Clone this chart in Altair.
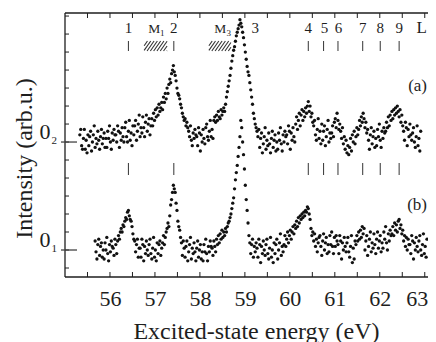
import altair as alt
import pandas as pd

# ---------------- data ----------------
# spectrum (a): excitation energy (eV) and intensity (arb. units, own zero)
energy_a = [
    55.33, 55.35, 55.37, 55.39, 55.41, 55.43, 55.45, 55.47, 55.49, 55.51,
    55.53, 55.55, 55.57, 55.59, 55.61, 55.63, 55.65, 55.67, 55.69, 55.71,
    55.73, 55.75, 55.77, 55.79, 55.81, 55.83, 55.85, 55.87, 55.89, 55.91,
    55.93, 55.95, 55.97, 55.99, 56.01, 56.03, 56.05, 56.07, 56.09, 56.11,
    56.13, 56.15, 56.17, 56.19, 56.21, 56.23, 56.25, 56.27, 56.29, 56.31,
    56.33, 56.35, 56.37, 56.39, 56.41, 56.43, 56.45, 56.47, 56.49, 56.51,
    56.53, 56.55, 56.57, 56.59, 56.61, 56.63, 56.65, 56.67, 56.69, 56.71,
    56.73, 56.75, 56.77, 56.79, 56.81, 56.83, 56.85, 56.87, 56.89, 56.91,
    56.93, 56.95, 56.97, 56.99, 57.01, 57.03, 57.05, 57.07, 57.09, 57.11,
    57.13, 57.15, 57.17, 57.19, 57.21, 57.23, 57.25, 57.27, 57.29, 57.31,
    57.33, 57.35, 57.37, 57.39, 57.41, 57.43, 57.45, 57.47, 57.49, 57.51,
    57.53, 57.55, 57.57, 57.59, 57.61, 57.63, 57.65, 57.67, 57.69, 57.71,
    57.73, 57.75, 57.77, 57.79, 57.81, 57.83, 57.85, 57.87, 57.89, 57.91,
    57.93, 57.95, 57.97, 57.99, 58.01, 58.03, 58.05, 58.07, 58.09, 58.11,
    58.13, 58.15, 58.17, 58.19, 58.21, 58.23, 58.25, 58.27, 58.29, 58.31,
    58.33, 58.35, 58.37, 58.39, 58.41, 58.43, 58.45, 58.47, 58.49, 58.51,
    58.53, 58.55, 58.57, 58.59, 58.61, 58.63, 58.65, 58.67, 58.69, 58.71,
    58.73, 58.75, 58.77, 58.79, 58.81, 58.83, 58.85, 58.87, 58.89, 58.91,
    58.93, 58.95, 58.97, 58.99, 59.01, 59.03, 59.05, 59.07, 59.09, 59.11,
    59.13, 59.15, 59.17, 59.19, 59.21, 59.23, 59.25, 59.27, 59.29, 59.31,
    59.33, 59.35, 59.37, 59.39, 59.41, 59.43, 59.45, 59.47, 59.49, 59.51,
    59.53, 59.55, 59.57, 59.59, 59.61, 59.63, 59.65, 59.67, 59.69, 59.71,
    59.73, 59.75, 59.77, 59.79, 59.81, 59.83, 59.85, 59.87, 59.89, 59.91,
    59.93, 59.95, 59.97, 59.99, 60.01, 60.03, 60.05, 60.07, 60.09, 60.11,
    60.13, 60.15, 60.17, 60.19, 60.21, 60.23, 60.25, 60.27, 60.29, 60.31,
    60.33, 60.35, 60.37, 60.39, 60.41, 60.43, 60.45, 60.47, 60.49, 60.51,
    60.53, 60.55, 60.57, 60.59, 60.61, 60.63, 60.65, 60.67, 60.69, 60.71,
    60.73, 60.75, 60.77, 60.79, 60.81, 60.83, 60.85, 60.87, 60.89, 60.91,
    60.93, 60.95, 60.97, 60.99, 61.01, 61.03, 61.05, 61.07, 61.09, 61.11,
    61.13, 61.15, 61.17, 61.19, 61.21, 61.23, 61.25, 61.27, 61.29, 61.31,
    61.33, 61.35, 61.37, 61.39, 61.41, 61.43, 61.45, 61.47, 61.49, 61.51,
    61.53, 61.55, 61.57, 61.59, 61.61, 61.63, 61.65, 61.67, 61.69, 61.71,
    61.73, 61.75, 61.77, 61.79, 61.81, 61.83, 61.85, 61.87, 61.89, 61.91,
    61.93, 61.95, 61.97, 61.99, 62.01, 62.03, 62.05, 62.07, 62.09, 62.11,
    62.13, 62.15, 62.17, 62.19, 62.21, 62.23, 62.25, 62.27, 62.29, 62.31,
    62.33, 62.35, 62.37, 62.39, 62.41, 62.43, 62.45, 62.47, 62.49, 62.51,
    62.53, 62.55, 62.57, 62.59, 62.61, 62.63, 62.65, 62.67, 62.69, 62.71,
    62.73, 62.75, 62.77, 62.79, 62.81, 62.83, 62.85, 62.87, 62.89, 62.91,
]
intensity_a = [
    0.4, 0.7, -0.2, -0.4, 0.2, 0.7, -0.4, 0.1, -0.6, 0.4,
    -0.2, 0.3, 0.6, -0.5, 0.0, 0.4, 0.9, -0.3, 0.2, -0.1,
    0.6, 0.1, -0.4, 0.3, 0.7, -0.1, 0.2, 0.5, -0.3, 0.2,
    -0.3, 0.6, 0.2, 0.9, 0.0, -0.4, 0.5, 0.1, 0.7, 0.4,
    0.4, 0.0, 0.9, 0.6, -0.3, 0.5, 0.1, 0.8, 0.3, 0.0,
    0.8, 1.1, 0.3, 0.0, 0.6, 1.2, 0.1, 0.5, -0.2, 0.9,
    0.4, 0.9, 1.2, 0.1, 0.6, 1.0, 1.5, 0.3, 0.8, 0.5,
    1.4, 0.8, 0.3, 1.1, 1.5, 0.6, 1.0, 1.3, 0.4, 0.9,
    1.3, 0.9, 1.6, 1.2, 1.8, 1.4, 1.9, 1.5, 2.1, 1.7,
    1.9, 2.2, 1.8, 2.5, 2.2, 2.7, 2.4, 3.0, 2.7, 3.2,
    3.5, 3.3, 3.8, 4.0, 4.25, 3.9, 3.7, 3.4, 3.0, 2.7,
    2.6, 2.4, 2.1, 1.9, 1.6, 1.4, 1.2, 1.3, 0.9, 1.1,
    0.8, 0.6, 0.3, 0.9, 0.1, -0.2, 0.5, 0.2, 0.7, 0.4,
    0.3, -0.2, 0.8, 0.5, -0.5, 0.4, 0.0, 0.7, 0.2, -0.1,
    0.8, 1.0, 0.3, 0.1, 0.6, 1.2, 0.3, 0.7, 0.2, 1.2,
    1.4, 1.1, 1.5, 1.2, 1.7, 1.4, 1.3, 1.8, 1.5, 1.7,
    1.9, 1.7, 2.1, 2.5, 2.8, 3.1, 3.4, 3.7, 4.1, 4.5,
    4.8, 5.1, 5.3, 5.6, 5.9, 6.1, 6.3, 6.5, 6.8, 6.6,
    6.4, 6.1, 5.8, 5.4, 5.0, 4.6, 4.2, 3.9, 3.7, 3.3,
    2.9, 2.5, 2.1, 1.6, 1.3, 1.0, 0.8, 0.6, 0.3, 0.7,
    -0.3, 0.2, 0.5, -0.6, -0.1, 0.3, 0.8, -0.4, 0.1, -0.2,
    0.5, -0.1, -0.6, 0.2, 0.6, -0.3, 0.1, 0.4, -0.5, 0.0,
    -0.4, 0.5, 0.1, 0.8, -0.1, -0.5, 0.4, 0.0, 0.6, 0.3,
    0.4, -0.1, 0.9, 0.6, -0.4, 0.5, 0.1, 0.8, 0.3, 0.0,
    1.0, 1.4, 0.7, 1.2, 1.6, 0.9, 1.5, 1.8, 1.2, 1.7,
    1.4, 1.9, 1.6, 2.0, 2.25, 1.7, 2.0, 1.4, 1.6, 1.1,
    0.9, 1.2, 0.4, 0.1, 0.7, 1.3, 0.2, 0.6, -0.1, 1.0,
    0.1, 0.6, 0.9, -0.2, 0.3, 0.7, 1.2, 0.0, 0.5, 0.2,
    0.5, 0.9, 0.3, 1.1, 1.3, 0.8, 1.6, 1.2, 0.7, 1.0,
    0.6, 0.2, 0.8, -0.1, 0.3, -0.4, 0.1, -0.6, -0.2, -0.7,
    -0.3, 0.2, -0.5, 0.4, 0.0, 0.6, -0.1, 0.3, 0.8, 0.4,
    0.7, 1.2, 0.9, 1.4, 1.1, 1.6, 1.3, 0.8, 1.1, 0.5,
    0.7, 0.1, -0.4, 0.4, 0.8, -0.1, 0.3, 0.6, -0.3, 0.2,
    -0.2, 0.7, 0.3, 1.0, 0.1, -0.3, 0.6, 0.2, 0.8, 0.5,
    0.6, 1.1, 0.8, 1.4, 0.9, 1.5, 1.2, 1.7, 1.3, 1.8,
    1.5, 1.9, 1.6, 2.0, 1.7, 1.4, 1.8, 1.1, 1.5, 0.9,
    0.6, 0.1, 1.1, 0.8, -0.2, 0.7, 0.3, 1.0, 0.4, 0.1,
    0.5, 0.8, 0.0, -0.3, 0.3, 0.9, -0.2, 0.2, -0.5, 0.6,
]

# spectrum (b)
energy_b = [
    55.67, 55.69, 55.71, 55.73, 55.75, 55.77, 55.79, 55.81, 55.83, 55.85,
    55.87, 55.89, 55.91, 55.93, 55.95, 55.97, 55.99, 56.01, 56.03, 56.05,
    56.07, 56.09, 56.11, 56.13, 56.15, 56.17, 56.19, 56.21, 56.23, 56.25,
    56.27, 56.29, 56.31, 56.33, 56.35, 56.37, 56.39, 56.41, 56.43, 56.45,
    56.47, 56.49, 56.51, 56.53, 56.55, 56.57, 56.59, 56.61, 56.63, 56.65,
    56.67, 56.69, 56.71, 56.73, 56.75, 56.77, 56.79, 56.81, 56.83, 56.85,
    56.87, 56.89, 56.91, 56.93, 56.95, 56.97, 56.99, 57.01, 57.03, 57.05,
    57.07, 57.09, 57.11, 57.13, 57.15, 57.17, 57.19, 57.21, 57.23, 57.25,
    57.27, 57.29, 57.31, 57.33, 57.35, 57.37, 57.39, 57.41, 57.43, 57.45,
    57.47, 57.49, 57.51, 57.53, 57.55, 57.57, 57.59, 57.61, 57.63, 57.65,
    57.67, 57.69, 57.71, 57.73, 57.75, 57.77, 57.79, 57.81, 57.83, 57.85,
    57.87, 57.89, 57.91, 57.93, 57.95, 57.97, 57.99, 58.01, 58.03, 58.05,
    58.07, 58.09, 58.11, 58.13, 58.15, 58.17, 58.19, 58.21, 58.23, 58.25,
    58.27, 58.29, 58.31, 58.33, 58.35, 58.37, 58.39, 58.41, 58.43, 58.45,
    58.47, 58.49, 58.51, 58.53, 58.55, 58.57, 58.59, 58.61, 58.63, 58.65,
    58.67, 58.69, 58.71, 58.73, 58.75, 58.77, 58.79, 58.81, 58.83, 58.85,
    58.87, 58.89, 58.91, 58.93, 58.95, 58.97, 58.99, 59.01, 59.03, 59.05,
    59.07, 59.09, 59.11, 59.13, 59.15, 59.17, 59.19, 59.21, 59.23, 59.25,
    59.27, 59.29, 59.31, 59.33, 59.35, 59.37, 59.39, 59.41, 59.43, 59.45,
    59.47, 59.49, 59.51, 59.53, 59.55, 59.57, 59.59, 59.61, 59.63, 59.65,
    59.67, 59.69, 59.71, 59.73, 59.75, 59.77, 59.79, 59.81, 59.83, 59.85,
    59.87, 59.89, 59.91, 59.93, 59.95, 59.97, 59.99, 60.01, 60.03, 60.05,
    60.07, 60.09, 60.11, 60.13, 60.15, 60.17, 60.19, 60.21, 60.23, 60.25,
    60.27, 60.29, 60.31, 60.33, 60.35, 60.37, 60.39, 60.41, 60.43, 60.45,
    60.47, 60.49, 60.51, 60.53, 60.55, 60.57, 60.59, 60.61, 60.63, 60.65,
    60.67, 60.69, 60.71, 60.73, 60.75, 60.77, 60.79, 60.81, 60.83, 60.85,
    60.87, 60.89, 60.91, 60.93, 60.95, 60.97, 60.99, 61.01, 61.03, 61.05,
    61.07, 61.09, 61.11, 61.13, 61.15, 61.17, 61.19, 61.21, 61.23, 61.25,
    61.27, 61.29, 61.31, 61.33, 61.35, 61.37, 61.39, 61.41, 61.43, 61.45,
    61.47, 61.49, 61.51, 61.53, 61.55, 61.57, 61.59, 61.61, 61.63, 61.65,
    61.67, 61.69, 61.71, 61.73, 61.75, 61.77, 61.79, 61.81, 61.83, 61.85,
    61.87, 61.89, 61.91, 61.93, 61.95, 61.97, 61.99, 62.01, 62.03, 62.05,
    62.07, 62.09, 62.11, 62.13, 62.15, 62.17, 62.19, 62.21, 62.23, 62.25,
    62.27, 62.29, 62.31, 62.33, 62.35, 62.37, 62.39, 62.41, 62.43, 62.45,
    62.47, 62.49, 62.51, 62.53, 62.55, 62.57, 62.59, 62.61, 62.63, 62.65,
    62.67, 62.69, 62.71, 62.73, 62.75, 62.77, 62.79, 62.81, 62.83, 62.85,
    62.87, 62.89, 62.91, 62.93, 62.95, 62.97, 62.99, 63.01, 63.03, 63.05,
]
intensity_b = [
    0.5, -0.1, -0.5, 0.3, 0.6, -0.3, 0.2, 0.4, -0.4, 0.0,
    -0.5, 0.4, 0.0, 0.7, -0.2, -0.6, 0.3, -0.1, 0.5, 0.2,
    0.1, -0.3, 0.6, 0.3, -0.2, 0.5, 0.8, 0.6, 1.0, 1.2,
    1.0, 1.4, 1.3, 1.6, 1.8, 1.7, 2.1, 2.2, 1.9, 1.7,
    1.6, 1.3, 0.9, 0.6, 0.5, -0.1, 0.3, 0.6, -0.4, 0.1,
    0.1, -0.4, 0.6, 0.3, -0.6, 0.2, -0.2, 0.5, 0.0, -0.3,
    0.3, 0.6, -0.2, -0.5, 0.1, 0.7, -0.4, 0.0, -0.6, 0.4,
    -0.2, 0.3, 0.5, -0.3, 0.1, 0.4, 0.8, 0.3, 0.7, 1.0,
    1.2, 1.5, 1.3, 1.9, 2.5, 2.8, 3.2, 3.6, 3.4, 3.2,
    2.6, 2.2, 1.6, 1.3, 1.1, 0.7, 0.4, -0.3, 0.5, 0.1,
    -0.4, 0.2, 0.5, -0.6, -0.1, 0.3, 0.7, -0.5, 0.1, -0.2,
    0.4, -0.1, -0.6, 0.1, 0.5, -0.4, 0.0, 0.3, -0.5, -0.1,
    -0.6, 0.3, -0.1, 0.6, -0.2, -0.6, 0.2, -0.1, 0.5, 0.2,
    0.1, -0.3, 0.5, 0.2, -0.1, 0.6, 0.3, 0.8, 0.4, 0.9,
    0.6, 1.1, 0.7, 1.0, 0.8, 1.2, 1.0, 1.3, 1.5, 1.6,
    1.8, 2.0, 2.3, 2.6, 2.9, 3.4, 3.9, 4.3, 4.7, 5.2,
    5.7, 6.3, 7.2, 6.8, 6.0, 5.3, 4.5, 3.6, 2.8, 2.2,
    1.5, 0.8, 0.4, -0.2, 0.3, 0.6, -0.4, 0.2, -0.1, 0.4,
    0.1, -0.4, 0.6, 0.3, -0.7, 0.2, -0.2, 0.5, 0.0, -0.3,
    0.3, 0.6, -0.2, -0.5, 0.1, 0.7, -0.4, 0.0, -0.7, 0.4,
    -0.2, 0.3, 0.6, -0.5, 0.0, 0.4, 0.9, -0.3, 0.2, -0.1,
    0.3, 0.8, 0.2, 0.6, 1.0, 0.4, 0.8, 1.1, 0.6, 1.0,
    1.3, 0.9, 1.4, 1.2, 1.6, 1.3, 1.8, 1.5, 1.9, 1.7,
    2.0, 1.8, 2.1, 1.9, 2.2, 2.1, 2.4, 2.3, 2.0, 1.7,
    1.2, 0.8, 1.0, 0.5, 0.9, 0.2, 0.6, -0.1, 0.4, 0.7,
    0.8, 0.2, -0.3, 0.5, 0.9, 0.0, 0.4, 0.7, -0.2, 0.3,
    -0.1, 0.8, 0.3, 1.0, 0.2, -0.2, 0.7, 0.2, 0.8, 0.5,
    0.3, -0.2, 0.8, 0.5, -0.5, 0.4, 0.0, 0.7, 0.2, -0.1,
    0.4, 0.7, -0.1, -0.4, 0.2, 0.8, -0.7, 0.1, -0.5, 0.5,
    0.3, 0.8, 0.5, 1.0, 0.6, 1.1, 0.7, 1.3, 0.9, 1.2,
    0.0, 0.5, 0.8, -0.3, 0.2, 0.6, 1.0, -0.1, 0.4, 0.1,
    0.9, 0.3, -0.2, 0.6, 1.0, 0.1, 0.5, 0.8, -0.1, 0.4,
    0.1, 1.0, 0.6, 1.3, 0.4, 0.0, 0.9, 0.5, 1.1, 0.8,
    0.9, 1.3, 0.8, 1.5, 1.1, 1.4, 1.0, 1.6, 1.7, 1.2,
    1.4, 0.9, 1.1, 0.5, 0.8, 0.2, 0.7, 0.0, 0.6, 0.3,
    0.3, -0.2, 0.8, 0.5, -0.5, 0.4, 0.0, 0.7, 0.2, -0.1,
    0.5, 0.8, 0.0, -0.3, 0.3, 0.9, -0.2, 0.2, -0.4, 0.6,
]
offset_a = 6.0          # vertical shift of spectrum (a) (zero level 0_2)
zero_levels = [0.0, 6.0]
zero_subs = ["1", "2"]

# line markers and labels
label_names = ["1", "2", "3", "4", "5", "6", "7", "8", "9"]
label_energies = [56.41, 57.42, 59.23, 60.41, 60.77, 61.08, 61.62, 62.01, 62.43]
line_energies = [56.41, 57.42, 60.41, 60.75, 61.07, 61.62, 62.01, 62.43]
hatch_ranges = [(56.76, 57.27), (58.20, 58.69)]
m_energies = [56.85, 58.32]
m_sub_energies = [57.11, 58.59]
m_subs = ["1", "3"]
x_tick_labels = [56, 57, 58, 59, 60, 61, 62, 63]
x_minor_ticks = [55.5, 56, 56.5, 57, 57.5, 58, 58.5, 59, 59.5, 60, 60.5, 61,
                 61.5, 62, 62.5, 63]
y_minor_ticks = list(range(-1, 14))

# ---------------- layout ----------------
W, H = 363, 264
X_DOMAIN = [55.0, 63.072]
Y_DOMAIN = [-1.5, 13.17]
FONT = "Liberation Serif, Times New Roman, serif"
INK = "#1e1e1e"

xs = alt.Scale(domain=X_DOMAIN, nice=False, zero=False)
ys = alt.Scale(domain=Y_DOMAIN, nice=False, zero=False)


def u_of(py):
    return Y_DOMAIN[1] - py * (Y_DOMAIN[1] - Y_DOMAIN[0]) / H


spec = pd.concat([
    pd.DataFrame({"e": energy_a, "v": [v + offset_a for v in intensity_a], "s": "a"}),
    pd.DataFrame({"e": energy_b, "v": intensity_b, "s": "b"}),
])

points = alt.Chart(spec).mark_circle(size=11, color="#111111", opacity=1).encode(
    x=alt.X("e:Q", scale=xs, axis=alt.Axis(
        values=x_tick_labels, format="d", ticks=False, domain=False, grid=False,
        labelFont=FONT, labelFontSize=22, labelColor=INK, labelPadding=11,
        labelFlush=6, labelFlushOffset=3, labelOverlap=False,
        title="Excited-state energy (eV)", titleFont=FONT, titleFontSize=24,
        titleFontWeight="normal", titleColor=INK, titleX=191, titleY=61,
        titleBaseline="alphabetic")),
    y=alt.Y("v:Q", scale=ys, axis=alt.Axis(
        labels=False, ticks=False, domain=False, grid=False,
        title="Intensity (arb.u.)", titleFont=FONT, titleFontSize=24,
        titleFontWeight="normal", titleColor=INK, titleAngle=270,
        titleX=-34, titleY=145, titleAlign="center", titleBaseline="alphabetic")),
)

one = pd.DataFrame({"k": [0]})
frame_top = alt.Chart(one).mark_rule(color=INK, strokeWidth=1.3).encode(
    x=alt.value(0), x2=alt.value(W), y=alt.value(0))
frame_bottom = alt.Chart(one).mark_rule(color=INK, strokeWidth=1.3).encode(
    x=alt.value(0), x2=alt.value(W), y=alt.value(H))
frame_left = alt.Chart(one).mark_rule(color=INK, strokeWidth=1.3).encode(
    x=alt.value(0), y=alt.value(0), y2=alt.value(H))

xt = pd.DataFrame({"t": x_minor_ticks})
ticks_bottom = alt.Chart(xt).mark_rule(color=INK, strokeWidth=1).encode(
    x=alt.X("t:Q", scale=xs, axis=None), y=alt.value(H), y2=alt.value(H - 5))
ticks_top = alt.Chart(xt).mark_rule(color=INK, strokeWidth=1).encode(
    x=alt.X("t:Q", scale=xs, axis=None), y=alt.value(0), y2=alt.value(5))
yt = pd.DataFrame({"t": y_minor_ticks})
ticks_left = alt.Chart(yt).mark_rule(color=INK, strokeWidth=1).encode(
    y=alt.Y("t:Q", scale=ys, axis=None), x=alt.value(0), x2=alt.value(4))
zl = pd.DataFrame({"t": zero_levels, "lab": ["0", "0"], "sub": zero_subs})
ticks_zero = alt.Chart(zl).mark_rule(color="#444444", strokeWidth=1.3).encode(
    y=alt.Y("t:Q", scale=ys, axis=None), x=alt.value(-4), x2=alt.value(12))
zero_text = alt.Chart(zl).mark_text(font=FONT, fontSize=22, color=INK, align="right",
                                    baseline="alphabetic", dy=-3.5).encode(
    y=alt.Y("t:Q", scale=ys, axis=None), x=alt.value(-14.5), text="lab:N")
zero_sub = alt.Chart(zl).mark_text(font=FONT, fontSize=11, color=INK, align="left",
                                   baseline="alphabetic", dy=1.5).encode(
    y=alt.Y("t:Q", scale=ys, axis=None), x=alt.value(-13.5), text="sub:N")

ld = pd.DataFrame({"e": line_energies})
lines_up = alt.Chart(ld).mark_rule(color="#333333", strokeWidth=1).encode(
    x=alt.X("e:Q", scale=xs, axis=None), y=alt.value(28), y2=alt.value(38))
lines_low = alt.Chart(ld).mark_rule(color="#333333", strokeWidth=1).encode(
    x=alt.X("e:Q", scale=xs, axis=None), y=alt.value(150), y2=alt.value(162))

# hatching of the M1 / M3 boxes
px_per_ev = W / (X_DOMAIN[1] - X_DOMAIN[0])
rows = []
hb, ht, dx, step = 38.0, 28.0, 7.0, 3.3
hpx = hb - ht
for e0, e1 in hatch_ranges:
    wpx = (e1 - e0) * px_per_ev
    s = -dx
    while s < wpx:
        xa, ya = s, 0.0
        xb, yb = s + dx, hpx
        if xa < 0:
            ya = -xa * hpx / dx
            xa = 0.0
        if xb > wpx:
            yb = hpx - (xb - wpx) * hpx / dx
            xb = wpx
        rows.append({"x": e0 + xa / px_per_ev, "x2": e0 + xb / px_per_ev,
                     "y": u_of(hb - ya), "y2": u_of(hb - yb)})
        s += step
hatch = alt.Chart(pd.DataFrame(rows)).mark_rule(color="#333333", strokeWidth=1.1).encode(
    x=alt.X("x:Q", scale=xs, axis=None), x2="x2:Q",
    y=alt.Y("y:Q", scale=ys, axis=None), y2="y2:Q")

lab = pd.DataFrame({"e": label_energies, "t": label_names})
labels = alt.Chart(lab).mark_text(font=FONT, fontSize=15, color=INK, align="center",
                                  baseline="alphabetic").encode(
    x=alt.X("e:Q", scale=xs, axis=None), y=alt.value(20), text="t:N")
md = pd.DataFrame({"e": m_energies, "t": ["M", "M"]})
m_text = alt.Chart(md).mark_text(font=FONT, fontSize=13.5, color=INK, align="left",
                                 baseline="alphabetic").encode(
    x=alt.X("e:Q", scale=xs, axis=None), y=alt.value(20), text="t:N")
msd = pd.DataFrame({"e": m_sub_energies, "t": m_subs})
m_sub = alt.Chart(msd).mark_text(font=FONT, fontSize=9, color=INK, align="left",
                                 baseline="alphabetic").encode(
    x=alt.X("e:Q", scale=xs, axis=None), y=alt.value(22.5), text="t:N")
corner = pd.DataFrame({"t": ["L", "(a)", "(b)"], "py": [20, 78, 197]})
corner_text = alt.Chart(corner).mark_text(
    font=FONT, fontSize=17, color=INK, align="right", baseline="alphabetic").encode(
    x=alt.value(W - 1), y=alt.Y("py:Q", scale=None), text="t:N")

chart = alt.layer(
    points, frame_top, frame_bottom, frame_left, ticks_bottom, ticks_top,
    ticks_left, ticks_zero, zero_text, zero_sub, lines_up, lines_low, hatch,
    labels, m_text, m_sub, corner_text,
).resolve_axis(
    x="independent", y="independent"
).properties(
    width=W, height=H,
    autosize=alt.AutoSizeParams(type="none"),
    padding={"left": 57, "top": 5, "right": 0, "bottom": 65},
).configure_view(stroke=None)

chart.save("out.html", embed_options={"renderer": "svg", "actions": False})
